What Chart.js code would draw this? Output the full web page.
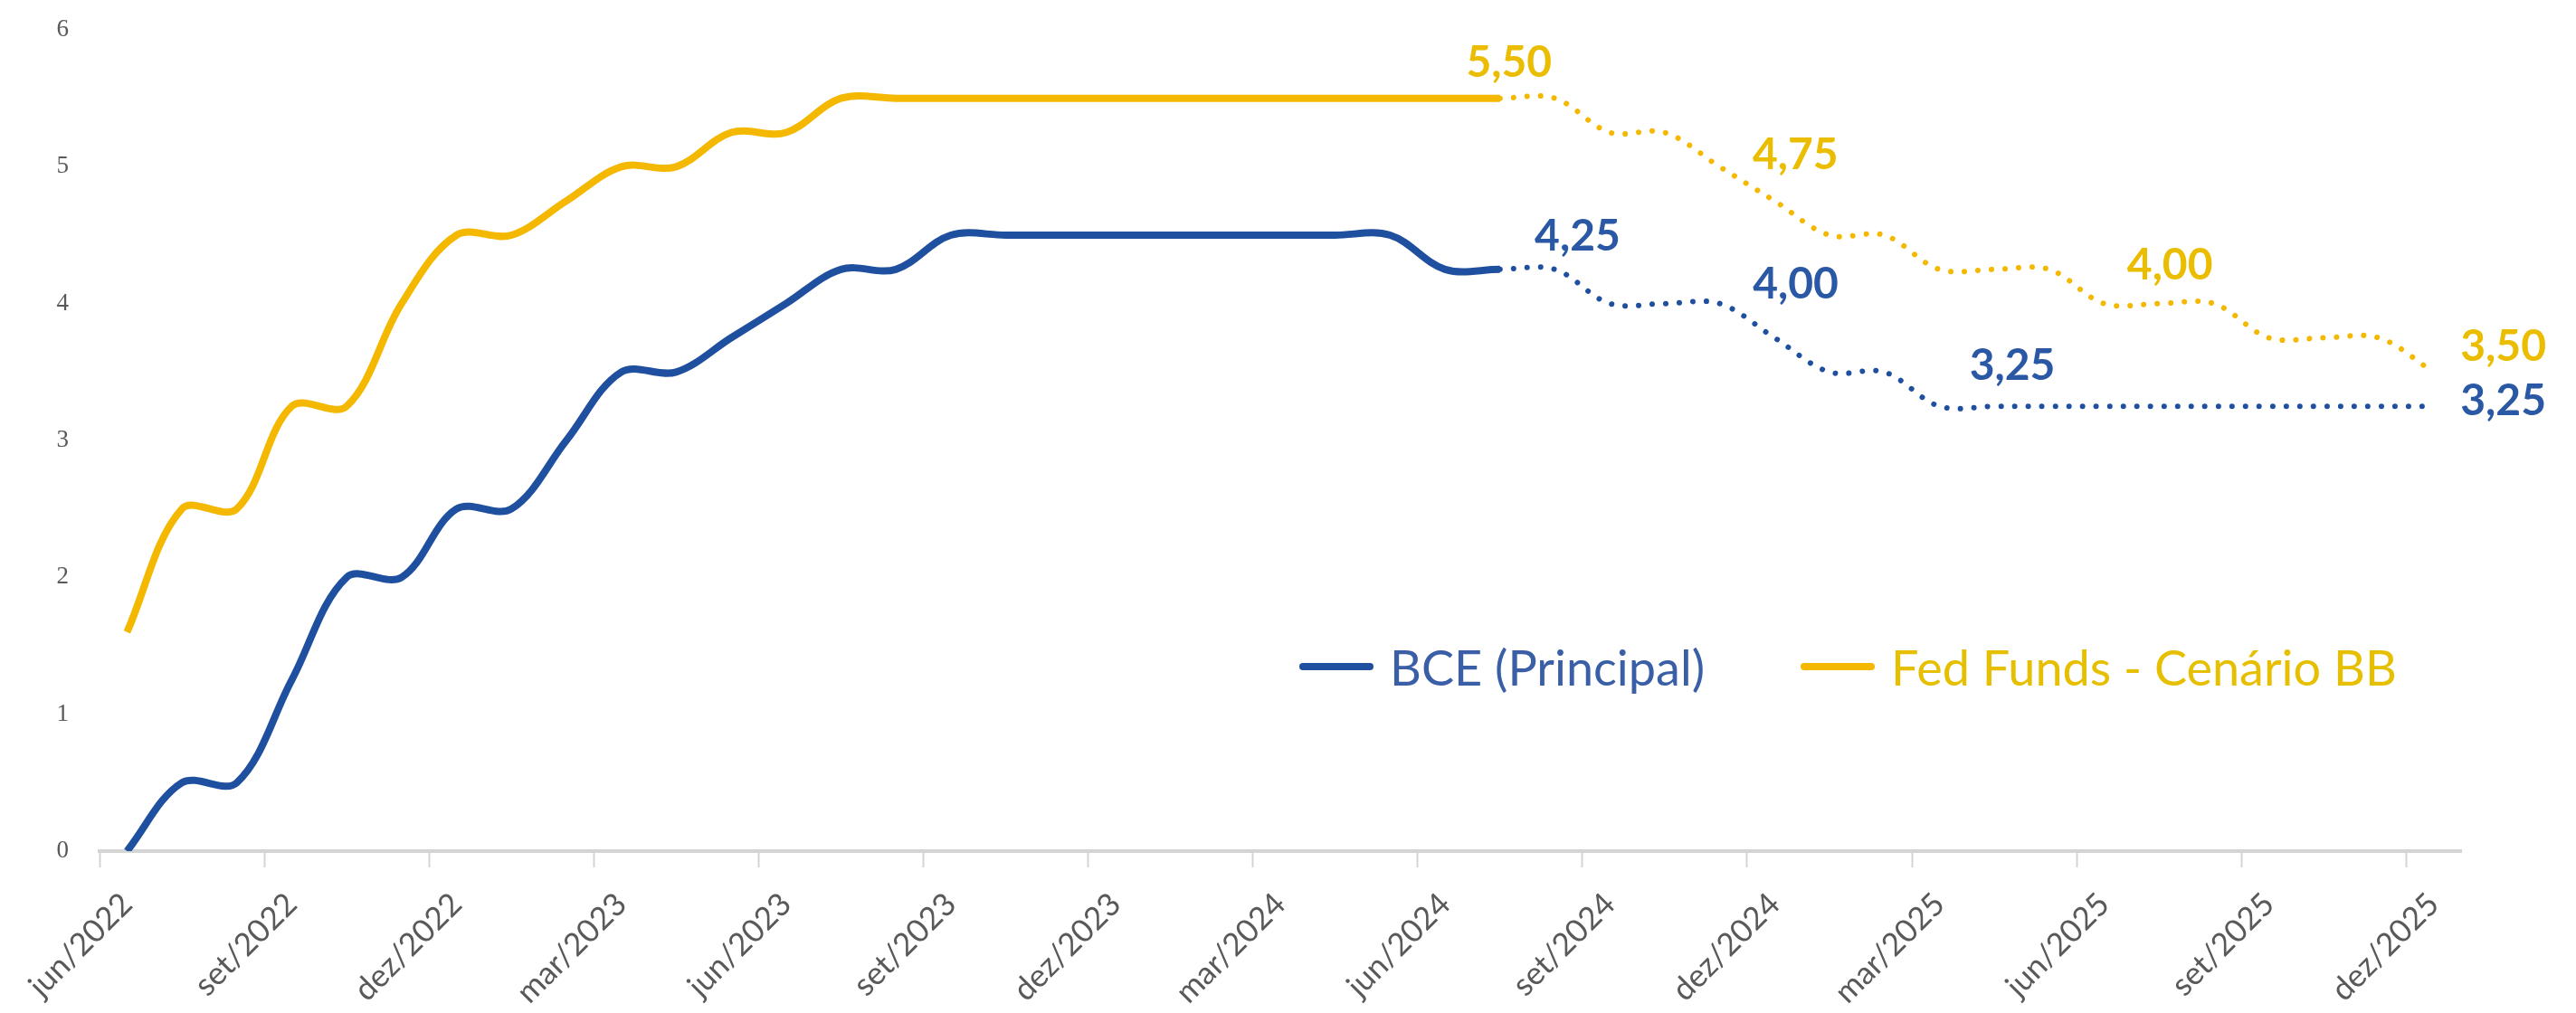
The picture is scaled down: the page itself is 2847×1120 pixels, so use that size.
<!DOCTYPE html>
<html lang="pt-BR">
<head>
<meta charset="utf-8">
<title>BCE x Fed Funds</title>
<script src="https://cdn.jsdelivr.net/npm/chart.js@4.4.1/dist/chart.umd.min.js"></script>
<style>
    html, body { margin: 0; padding: 0; background: #ffffff; }
    #wrap { position: relative; width: 2847px; height: 1120px; }
    #legend {
        position: absolute; left: 1436px; top: 706px; height: 62px;
        display: flex; align-items: center;
        font-family: 'Lato', sans-serif; font-size: 54px; white-space: nowrap;
    }
    .item { display: flex; align-items: center; }
    .item + .item { margin-left: 106px; }
    .swatch { width: 82px; height: 8px; border-radius: 4px; margin-right: 18px; }
</style>
</head>
<body>
<div id="wrap">
    <canvas id="ratesChart" width="2847" height="1120"></canvas>
    <div id="legend"></div>
</div>
<script>
// Monthly categories (jun/2022 - dez/2025)
const months = [
    'jun/2022', 'jul/2022', 'ago/2022', 'set/2022', 'out/2022', 'nov/2022', 'dez/2022',
    'jan/2023', 'fev/2023', 'mar/2023', 'abr/2023', 'mai/2023', 'jun/2023',
    'jul/2023', 'ago/2023', 'set/2023', 'out/2023', 'nov/2023', 'dez/2023',
    'jan/2024', 'fev/2024', 'mar/2024', 'abr/2024', 'mai/2024', 'jun/2024',
    'jul/2024', 'ago/2024', 'set/2024', 'out/2024', 'nov/2024', 'dez/2024',
    'jan/2025', 'fev/2025', 'mar/2025', 'abr/2025', 'mai/2025', 'jun/2025',
    'jul/2025', 'ago/2025', 'set/2025', 'out/2025', 'nov/2025', 'dez/2025'
];

// BCE main rate (% a.a.)
const bceValues = [
    0, 0.5, 0.5, 1.25, 2.0, 2.0, 2.5,
    2.5, 3.0, 3.5, 3.5, 3.75, 4.0,
    4.25, 4.25, 4.5, 4.5, 4.5, 4.5,
    4.5, 4.5, 4.5, 4.5, 4.5, 4.25,
    4.25, 4.25, 4.0, 4.0, 4.0, 3.75,
    3.5, 3.5, 3.25, 3.25, 3.25, 3.25,
    3.25, 3.25, 3.25, 3.25, 3.25, 3.25
];

// Fed Funds upper bound - BB scenario (% a.a.)
const fedValues = [
    1.6, 2.5, 2.5, 3.25, 3.25, 4.0, 4.5,
    4.5, 4.75, 5.0, 5.0, 5.25, 5.25,
    5.5, 5.5, 5.5, 5.5, 5.5, 5.5,
    5.5, 5.5, 5.5, 5.5, 5.5, 5.5,
    5.5, 5.5, 5.25, 5.25, 5.0, 4.75,
    4.5, 4.5, 4.25, 4.25, 4.25, 4.0,
    4.0, 4.0, 3.75, 3.75, 3.75, 3.5
];

const yTicks = [0, 1, 2, 3, 4, 5, 6];

// First month index drawn as projection (dotted)
const forecastStart = 25;

const BLUE = '#1f4f9f';
const BLUE_TEXT = '#2a58a5';
const YELLOW = '#f4b800';
const YELLOW_TEXT = '#ebbd00';

// Value callouts: which point, and where the text sits relative to it
const valueLabels = [
    { series: 1, index: 25, dx: 10, dy: -39 },
    { series: 0, index: 26, dx: 25, dy: -36 },
    { series: 1, index: 30, dx: 23, dy: -51 },
    { series: 0, index: 29, dx: 84, dy: -21 },
    { series: 0, index: 34, dx: 20, dy: -45 },
    { series: 1, index: 37, dx: 12, dy: -42 },
    { series: 1, index: 42, dx: 77, dy: -28 },
    { series: 0, index: 42, dx: 77, dy: -6 }
];

/**
 * Segment style: solid for history, dotted for the projection
 */
function projectionSegment() {
    return {
        borderDash: ctx => ctx.p0DataIndex >= forecastStart ? [0.01, 15] : undefined,
        borderWidth: ctx => ctx.p0DataIndex >= forecastStart ? 6 : undefined,
        borderCapStyle: ctx => ctx.p0DataIndex >= forecastStart ? 'round' : undefined
    };
}

function formatRate(v) {
    return v.toFixed(2).replace('.', ',');
}

// Draws the value callouts next to their points
const valueLabelPlugin = {
    id: 'valueLabels',
    afterDatasetsDraw(chart) {
        const ctx = chart.ctx;
        ctx.save();
        ctx.font = 'bold 48px Lato';
        ctx.textAlign = 'center';
        ctx.textBaseline = 'middle';
        valueLabels.forEach(lbl => {
            const point = chart.getDatasetMeta(lbl.series).data[lbl.index];
            const value = chart.data.datasets[lbl.series].data[lbl.index];
            ctx.fillStyle = lbl.series === 0 ? BLUE_TEXT : YELLOW_TEXT;
            ctx.fillText(formatRate(value), point.x + lbl.dx, point.y + lbl.dy);
        });
        ctx.restore();
    }
};

const datasets = [
    { label: 'BCE (Principal)', data: bceValues, color: BLUE, text: '#3a5fa6' },
    { label: 'Fed Funds - Cenário BB', data: fedValues, color: YELLOW, text: '#e6bf00' }
];

// HTML legend
const legendEl = document.getElementById('legend');
datasets.forEach(ds => {
    const item = document.createElement('div');
    item.className = 'item';
    item.innerHTML = `<span class="swatch" style="background:${ds.color}"></span>` +
        `<span style="color:${ds.text}">${ds.label}</span>`;
    legendEl.appendChild(item);
});

new Chart(document.getElementById('ratesChart'), {
    type: 'line',
    data: {
        labels: months,
        datasets: datasets.map(ds => ({
            label: ds.label,
            data: ds.data,
            borderColor: ds.color,
            backgroundColor: ds.color,
            borderWidth: 8,
            pointRadius: 0,
            tension: 0.35,
            fill: false,
            segment: projectionSegment()
        }))
    },
    options: {
        responsive: false,
        animation: false,
        layout: { padding: { top: 33, right: 127, left: 0, bottom: 0 } },
        plugins: {
            legend: { display: false },
            tooltip: { enabled: false }
        },
        scales: {
            x: {
                type: 'category',
                offset: true,
                afterFit: scale => { scale.height = 179; },
                grid: {
                    offset: true,
                    drawOnChartArea: false,
                    drawTicks: true,
                    tickLength: 18,
                    tickWidth: 2,
                    tickColor: ctx => (ctx.index !== undefined && ctx.index % 3 === 0) ? '#d4d4d4' : 'rgba(0,0,0,0)'
                },
                border: { display: true, color: '#d4d4d4', width: 4 },
                ticks: {
                    autoSkip: false,
                    maxRotation: 45,
                    minRotation: 45,
                    padding: 20,
                    color: '#595959',
                    font: { family: 'Lato', size: 35 },
                    callback: (value, index) => index % 3 === 0 ? months[index] : ''
                }
            },
            y: {
                min: 0,
                max: 6,
                afterFit: scale => {
                    // fixed gutter; tick padding should not push the plot down
                    scale.width = 110;
                    scale.paddingTop = 14;
                    scale.paddingBottom = 14;
                },
                afterBuildTicks: scale => { scale.ticks = yTicks.map(v => ({ value: v })); },
                grid: { display: false },
                border: { display: false },
                ticks: {
                    padding: 26,
                    color: '#595959',
                    font: { family: 'Liberation Serif', size: 27 }
                }
            }
        }
    },
    plugins: [valueLabelPlugin]
});
</script>
</body>
</html>
